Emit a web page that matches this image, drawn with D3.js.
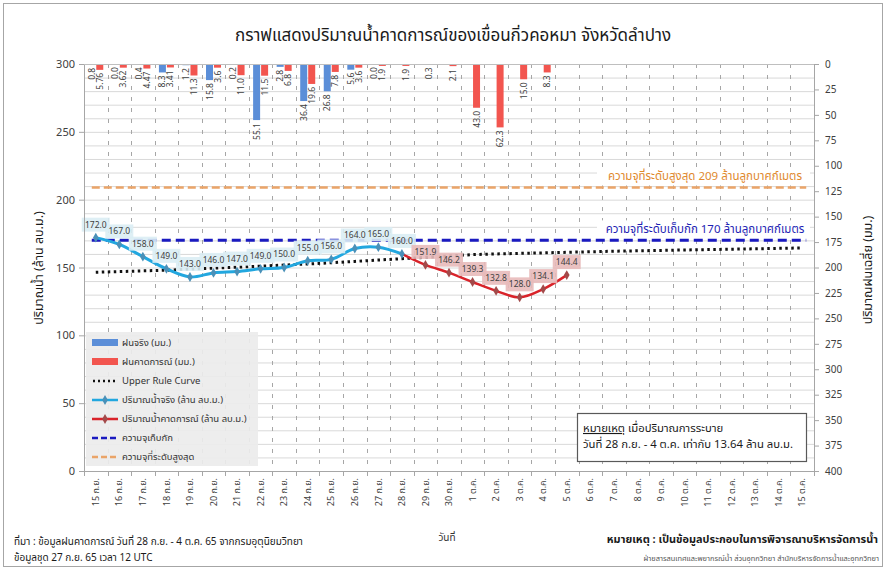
<!DOCTYPE html>
<html><head><meta charset="utf-8">
<script src="https://cdn.jsdelivr.net/npm/d3@7"></script>
<style>
body{margin:0;background:#fff}
svg{display:block}
text{font-family:"Noto Sans Thai","Tahoma","Leelawadee UI","Noto Sans",sans-serif}
</style>
</head><body>
<svg id="c" width="887" height="570"></svg>
<script>
// ---------- data ----------
const dates = ["15 ก.ย.","16 ก.ย.","17 ก.ย.","18 ก.ย.","19 ก.ย.","20 ก.ย.","21 ก.ย.","22 ก.ย.","23 ก.ย.","24 ก.ย.","25 ก.ย.","26 ก.ย.","27 ก.ย.","28 ก.ย.","29 ก.ย.","30 ก.ย.",
  "1 ต.ค.","2 ต.ค.","3 ต.ค.","4 ต.ค.","5 ต.ค.","6 ต.ค.","7 ต.ค.","8 ต.ค.","9 ต.ค.","10 ต.ค.","11 ต.ค.","12 ต.ค.","13 ต.ค.","14 ต.ค.","15 ต.ค."];
const rainActual = [0.8,0.0,0.4,8.3,1.2,15.8,0.2,55.1,2.8,36.4,26.8,5.6,0.0,null,null,null,null,null,null,null,null,null,null,null,null,null,null,null,null,null,null];
const rainForecast = [5.76,3.62,4.47,3.41,11.3,3.6,11.0,11.5,6.8,19.6,7.8,3.6,1.9,1.9,0.3,2.1,43.0,62.3,15.0,8.3,null,null,null,null,null,null,null,null,null,null,null];
const waterActual = [172.0,167.0,158.0,149.0,143.0,146.0,147.0,149.0,150.0,155.0,156.0,164.0,165.0,160.0,null,null,null,null,null,null,null,null,null,null,null,null,null,null,null,null,null];
const waterForecast = [null,null,null,null,null,null,null,null,null,null,null,null,null,160.0,151.9,146.2,139.3,132.8,128.0,134.1,144.4,null,null,null,null,null,null,null,null,null,null];
const upperRule = [146.5,147.0,147.5,148.0,148.8,149.5,150.2,151.0,151.8,152.6,153.5,154.5,155.5,156.5,157.5,158.5,159.5,160.0,160.4,160.8,161.2,161.6,162.0,162.3,162.6,162.9,163.2,163.5,163.8,164.1,164.4];
const maxCapacity = 209;
const storageCapacity = 170;
const leftTicks = [0,50,100,150,200,250,300];
const rightTicks = [0,25,50,75,100,125,150,175,200,225,250,275,300,325,350,375,400];

// ---------- setup ----------
const svg = d3.select("#c");
const L = 84, R = 814, T = 64, B = 471;
const x = d3.scaleBand().domain(dates).range([L, R]);
const bw = x.bandwidth();
const cx = d => x(d) + bw / 2;
const yL = d3.scaleLinear().domain([0, 300]).range([B, T]);
const yR = d3.scaleLinear().domain([0, 400]).range([T, B]);

svg.append("rect").attr("x",0).attr("y",0).attr("width",887).attr("height",570).attr("fill","#fff");
svg.append("rect").attr("x",3.5).attr("y",3.5).attr("width",879).attr("height",563)
  .attr("fill","none").attr("stroke","#a6a6a6");

// title
svg.append("text").attr("x",453).attr("y",41).attr("text-anchor","middle")
  .attr("font-size",17).attr("fill","#1a1a1a").text("กราฟแสดงปริมาณน้ำคาดการณ์ของเขื่อนกิ่วคอหมา จังหวัดลำปาง");

// horizontal gridlines
svg.append("g").selectAll("line").data(d3.range(10, 301, 10)).join("line")
  .attr("x1",L).attr("x2",R).attr("y1",d=>yL(d)+0.5).attr("y2",d=>yL(d)+0.5)
  .attr("stroke","#d9d9d9").attr("stroke-width",1);

// vertical dashed gridlines at band boundaries
svg.append("g").selectAll("line").data(dates.slice(1)).join("line")
  .attr("x1",d=>Math.round(x(d))+0.5).attr("x2",d=>Math.round(x(d))+0.5)
  .attr("y1",T).attr("y2",B)
  .attr("stroke","#a6a6a6").attr("stroke-dasharray","4,7");

// reference lines labels background + text
function refLabel(v, txt, color){
  const yy = yL(v) - 11;
  svg.append("rect").attr("x",597).attr("y",yy-9).attr("width",213).attr("height",18).attr("fill","#fff");
  svg.append("text").attr("x",705).attr("y",yy).attr("dy","0.35em").attr("text-anchor","middle")
    .attr("font-size",11.5).attr("fill",color).text(txt);
}
refLabel(maxCapacity, "ความจุที่ระดับสูงสุด 209 ล้านลูกบาศก์เมตร", "#e0892e");
refLabel(storageCapacity, "ความจุที่ระดับเก็บกัก 170 ล้านลูกบาศก์เมตร", "#1f1fb4");

// rain bars
const barW = 7;
svg.append("g").selectAll("rect").data(dates.map((d,i)=>({d,v:rainActual[i]})).filter(o=>o.v!==null)).join("rect")
  .attr("x",o=>cx(o.d)-barW-0.5).attr("y",yR(0)).attr("width",barW).attr("height",o=>yR(o.v)-yR(0))
  .attr("fill","#5b8ed8");
svg.append("g").selectAll("rect").data(dates.map((d,i)=>({d,v:rainForecast[i]})).filter(o=>o.v!==null)).join("rect")
  .attr("x",o=>cx(o.d)+0.5).attr("y",yR(0)).attr("width",barW).attr("height",o=>yR(o.v)-yR(0))
  .attr("fill","#f2554f");

const fmtRain = v => (Math.abs(v*10 - Math.round(v*10)) > 1e-6) ? v.toFixed(2) : v.toFixed(1);
function rainLabels(arr, off){
  svg.append("g").selectAll("text").data(dates.map((d,i)=>({d,v:arr[i]})).filter(o=>o.v!==null)).join("text")
    .attr("transform",o=>`translate(${cx(o.d)+off},${yR(o.v)+3}) rotate(-90)`)
    .attr("text-anchor","end").attr("dy","0.35em").attr("font-size",8.5).attr("fill","#404040")
    .text(o=>fmtRain(o.v));
}
rainLabels(rainActual, -4);
rainLabels(rainForecast, 4);

// reference lines
svg.append("line").attr("x1",cx(dates[0])-4).attr("x2",cx(dates[30])+4)
  .attr("y1",yL(maxCapacity)).attr("y2",yL(maxCapacity))
  .attr("stroke","#eaa468").attr("stroke-width",2.5).attr("stroke-dasharray","8,4");
svg.append("line").attr("x1",cx(dates[0])-4).attr("x2",cx(dates[30])+4)
  .attr("y1",yL(storageCapacity)).attr("y2",yL(storageCapacity))
  .attr("stroke","#1a1ac0").attr("stroke-width",3).attr("stroke-dasharray","9,5");

// upper rule curve
const lineGen = d3.line().defined(d=>d.v!==null).x(d=>cx(d.d)).y(d=>yL(d.v));
svg.append("path").datum(dates.map((d,i)=>({d,v:upperRule[i]})))
  .attr("d", lineGen).attr("fill","none").attr("stroke","#111").attr("stroke-width",3)
  .attr("stroke-dasharray","2.5,3.5");

// water lines
const smooth = d3.line().defined(d=>d.v!==null).x(d=>cx(d.d)).y(d=>yL(d.v)).curve(d3.curveCatmullRom.alpha(0.5));
const actData = dates.map((d,i)=>({d,v:waterActual[i]})).filter(o=>o.v!==null);
const fcData = dates.map((d,i)=>({d,v:waterForecast[i]})).filter(o=>o.v!==null);
svg.append("path").datum(actData).attr("d",smooth).attr("fill","none").attr("stroke","#22a7df").attr("stroke-width",3);
svg.append("path").datum(fcData).attr("d",smooth).attr("fill","none").attr("stroke","#d9232a").attr("stroke-width",2.5);
const diamond = d3.symbol().type(d3.symbolDiamond).size(28);
svg.append("g").selectAll("path").data(actData).join("path").attr("d",diamond)
  .attr("transform",o=>`translate(${cx(o.d)},${yL(o.v)})`).attr("fill","#4a90b8");
svg.append("g").selectAll("path").data(fcData.slice(1)).join("path").attr("d",diamond)
  .attr("transform",o=>`translate(${cx(o.d)},${yL(o.v)})`).attr("fill","#a24a4a");

// value labels (boxes first, then texts)
const labelSets = [{data:actData, fill:"#daedf4"}, {data:fcData.slice(1), fill:"#e8baba"}];
const boxG = svg.append("g"), txtG = svg.append("g");
labelSets.forEach(s=>{
  s.data.forEach(o=>{
    const px = cx(o.d), py = yL(o.v) - 13;
    boxG.append("rect").attr("x",px-14).attr("y",py-7).attr("width",28).attr("height",14).attr("fill",s.fill).attr("opacity",0.9);
    txtG.append("text").attr("x",px).attr("y",py).attr("dy","0.35em").attr("text-anchor","middle")
      .attr("font-size",8.5).attr("fill","#404040").text(o.v.toFixed(1));
  });
});

// axes
const axL = svg.append("g").attr("transform",`translate(${L},0)`)
  .call(d3.axisLeft(yL).tickValues(leftTicks).tickSize(5).tickSizeOuter(0).tickPadding(4));
const axR = svg.append("g").attr("transform",`translate(${R},0)`)
  .call(d3.axisRight(yR).tickValues(rightTicks).tickSize(5).tickSizeOuter(0).tickPadding(6));
const axB = svg.append("g").attr("transform",`translate(0,${B})`)
  .call(d3.axisBottom(x).tickSize(0).tickSizeOuter(0));
axB.selectAll("text").attr("transform","rotate(-90)").attr("text-anchor","end")
  .attr("x",-7).attr("y",0).attr("dy","0.35em").attr("font-size",9).attr("fill","#404040");
svg.append("g").selectAll("line").data(dates.concat(["end"])).join("line")
  .attr("x1",(d,i)=>Math.round(L+i*bw)+0.5).attr("x2",(d,i)=>Math.round(L+i*bw)+0.5)
  .attr("y1",B).attr("y2",B+5).attr("stroke","#a6a6a6");
[axL,axR,axB].forEach(a=>{a.selectAll(".domain").attr("stroke","#a6a6a6");a.selectAll(".tick line").attr("stroke","#a6a6a6");});
axL.selectAll("text").attr("font-size",11).attr("fill","#404040");
axR.selectAll("text").attr("font-size",10).attr("fill","#404040");
svg.append("line").attr("x1",L).attr("x2",R).attr("y1",T+0.5).attr("y2",T+0.5).attr("stroke","#bfbfbf");

// axis titles
svg.append("text").attr("transform","translate(43,268) rotate(-90)").attr("text-anchor","middle")
  .attr("font-size",12.5).attr("fill","#1a1a1a").text("ปริมาณน้ำ (ล้าน ลบ.ม.)");
svg.append("text").attr("transform","translate(872,270) rotate(-90)").attr("text-anchor","middle")
  .attr("font-size",12.5).attr("fill","#1a1a1a").text("ปริมาณฝนเฉลี่ย (มม.)");

// legend
const lg = svg.append("g");
lg.append("rect").attr("x",86).attr("y",332).attr("width",172).attr("height",134).attr("fill","#ececec").attr("opacity",0.92);
const items = [
  {t:"ฝนจริง (มม.)", k:"bar", c:"#5b8ed8"},
  {t:"ฝนคาดการณ์ (มม.)", k:"bar", c:"#f2554f"},
  {t:"Upper Rule Curve", k:"dot", c:"#111"},
  {t:"ปริมาณน้ำจริง (ล้าน ลบ.ม.)", k:"line", c:"#22a7df", m:"#4a90b8"},
  {t:"ปริมาณน้ำคาดการณ์ (ล้าน ลบ.ม.)", k:"line", c:"#d9232a", m:"#a24a4a"},
  {t:"ความจุเก็บกัก", k:"dash", c:"#1a1ac0"},
  {t:"ความจุที่ระดับสูงสุด", k:"dash", c:"#eaa468"}
];
items.forEach((it,i)=>{
  const yy = 343 + i*19;
  if(it.k==="bar") lg.append("rect").attr("x",92).attr("y",yy-4).attr("width",26).attr("height",7).attr("fill",it.c);
  if(it.k==="dot") lg.append("line").attr("x1",93).attr("x2",118).attr("y1",yy).attr("y2",yy).attr("stroke",it.c).attr("stroke-width",2.5).attr("stroke-dasharray","2,3");
  if(it.k==="line"){
    lg.append("line").attr("x1",92).attr("x2",118).attr("y1",yy).attr("y2",yy).attr("stroke",it.c).attr("stroke-width",2.5);
    lg.append("path").attr("d",diamond).attr("transform",`translate(105,${yy})`).attr("fill",it.m);
  }
  if(it.k==="dash") lg.append("line").attr("x1",92).attr("x2",118).attr("y1",yy).attr("y2",yy).attr("stroke",it.c).attr("stroke-width",2.5).attr("stroke-dasharray","6,3");
  lg.append("text").attr("x",122).attr("y",yy).attr("dy","0.35em").attr("font-size",9.5).attr("fill","#333").text(it.t);
});

// note box
svg.append("rect").attr("x",577.5).attr("y",413.5).attr("width",229).attr("height",48).attr("fill","#fff").attr("stroke","#595959").attr("stroke-width",1.2);
const nt = svg.append("text").attr("x",583).attr("y",428).attr("dy","0.35em").attr("font-size",11.3).attr("fill","#1a1a1a");
nt.append("tspan").attr("text-decoration","underline").text("หมายเหตุ");
nt.append("tspan").text("  เมื่อปริมาณการระบาย");
svg.append("text").attr("x",583).attr("y",444).attr("dy","0.35em").attr("font-size",11.3).attr("fill","#1a1a1a")
  .text("วันที่ 28 ก.ย. - 4 ต.ค. เท่ากับ 13.64 ล้าน ลบ.ม.");

// footer
svg.append("text").attr("x",447).attr("y",537).attr("dy","0.35em").attr("text-anchor","middle").attr("font-size",10).attr("fill","#333").text("วันที่");
svg.append("text").attr("x",14).attr("y",541).attr("dy","0.35em").attr("font-size",10).attr("fill","#1a1a1a")
  .text("ที่มา : ข้อมูลฝนคาดการณ์ วันที่ 28 ก.ย. - 4 ต.ค. 65 จากกรมอุตุนิยมวิทยา");
svg.append("text").attr("x",14).attr("y",557).attr("dy","0.35em").attr("font-size",10).attr("fill","#1a1a1a")
  .text("ข้อมูลชุด 27 ก.ย. 65 เวลา 12 UTC");
svg.append("text").attr("x",878).attr("y",539).attr("dy","0.35em").attr("text-anchor","end").attr("font-size",10.9).attr("font-weight","bold").attr("fill","#1a1a1a")
  .text("หมายเหตุ : เป็นข้อมูลประกอบในการพิจารณาบริหารจัดการน้ำ");
svg.append("text").attr("x",879).attr("y",558).attr("dy","0.35em").attr("text-anchor","end").attr("font-size",7.4).attr("fill","#555")
  .text("ฝ่ายสารสนเทศและพยากรณ์น้ำ ส่วนอุทกวิทยา สำนักบริหารจัดการน้ำและอุทกวิทยา");
</script>
</body></html>
